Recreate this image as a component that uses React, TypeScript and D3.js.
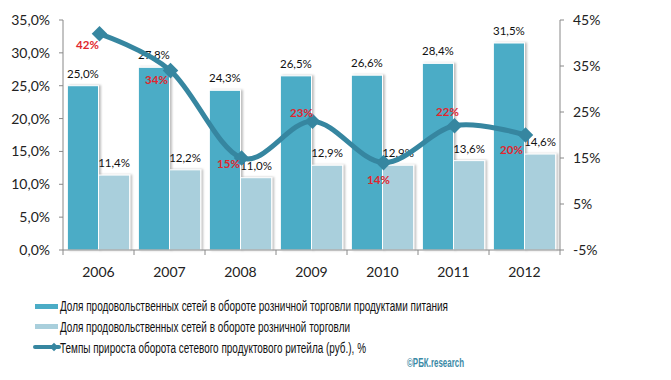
import React from "react";
import * as d3 from "d3";

const years = ["2006", "2007", "2008", "2009", "2010", "2011", "2012"];
const foodShare = [25.0, 27.8, 24.3, 26.5, 26.6, 28.4, 31.5];
const retailShare = [11.4, 12.2, 11.0, 12.9, 12.9, 13.6, 14.6];
const growth = [42, 34, 15, 23, 14, 22, 20];
const leftTicks = [0, 5, 10, 15, 20, 25, 30, 35];
const rightTicks = [-5, 5, 15, 25, 35, 45];
const legendLabels = [
  "Доля продовольственных  сетей в обороте  розничной торговли  продуктами питания",
  "Доля продовольственных  сетей в обороте  розничной торговли",
  "Темпы прироста оборота  сетевого продуктового  ритейла (руб.), %",
];
// manual label nudges (dx, dy) for the growth labels, as in the original
const growthLabelOffsets = [
  [-12, 11], [-14, 9], [-13, 6], [-11, -8], [-5, 17], [-7, -14], [-14, 15],
];

const W = 671, H = 380;
const left = 63, right = 560, top = 20, bottom = 250;
const DARK = "#4BACC6";
const LIGHT = "#A9CFDC";
const LINE = "#3686A0";
const FONT = "Lato, 'Open Sans', sans-serif";
const NARROW = "'Liberation Sans Narrow', 'Liberation Sans', sans-serif";

const fmt = (v: number) => v.toFixed(1).replace(".", ",") + "%";

export default function App() {
  const x = d3.scaleBand<string>().domain(years).range([left, right]).paddingInner(0);
  const inner = d3.scaleBand<string>().domain(["a", "b"]).range([0, x.bandwidth()]).paddingOuter(0.14).paddingInner(0);
  const yL = d3.scaleLinear().domain([0, 35]).range([bottom, top]);
  const yR = d3.scaleLinear().domain([-5, 45]).range([bottom, top]);
  const cx = (y: string) => (x(y) as number) + x.bandwidth() / 2 + 1;

  const lineGen = d3
    .line<number>()
    .x((_, i) => cx(years[i]))
    .y((d) => yR(d))
    .curve(d3.curveCardinal.tension(0));

  const bw = inner.bandwidth();

  return (
    <svg width={W} height={H} style={{ position: "absolute", left: 0, top: 0, background: "#fff" }}>
      <defs>
        <filter id="sh" x="-20%" y="-5%" width="150%" height="110%">
          <feDropShadow dx="2" dy="0" stdDeviation="1.2" floodColor="#000" floodOpacity="0.25" />
        </filter>
      </defs>

      {/* bars */}
      {years.map((yr, i) => {
        const x0 = (x(yr) as number) + (inner("a") as number);
        const x1 = (x(yr) as number) + (inner("b") as number);
        return (
          <g key={yr}>
            <rect x={x0} y={yL(foodShare[i])} width={bw} height={bottom - yL(foodShare[i])} fill={DARK} stroke="#fff" strokeWidth={1} filter="url(#sh)" />
            <rect x={x1} y={yL(retailShare[i])} width={bw} height={bottom - yL(retailShare[i])} fill={LIGHT} stroke="#fff" strokeWidth={1} filter="url(#sh)" />
            <text x={x0 + bw / 2} y={yL(foodShare[i]) - 8} textAnchor="middle" fontFamily={FONT} fontSize={11.5} fill="#111">{fmt(foodShare[i])}</text>
            <text x={x1 + bw / 2} y={yL(retailShare[i]) - 8} textAnchor="middle" fontFamily={FONT} fontSize={11.5} fill="#111">{fmt(retailShare[i])}</text>
          </g>
        );
      })}

      {/* axes */}
      <line x1={left} x2={left} y1={top} y2={bottom} stroke="#888" />
      <line x1={right} x2={right} y1={top} y2={bottom} stroke="#888" />
      <line x1={left} x2={right} y1={bottom} y2={bottom} stroke="#888" />
      {leftTicks.map((t) => (
        <g key={"l" + t}>
          <line x1={left - 4} x2={left} y1={yL(t)} y2={yL(t)} stroke="#888" />
          <text x={50} y={yL(t) + 5} textAnchor="end" fontFamily={FONT} fontSize={14} fill="#222">{fmt(t)}</text>
        </g>
      ))}
      {rightTicks.map((t) => (
        <g key={"r" + t}>
          <line x1={right} x2={right + 4} y1={yR(t)} y2={yR(t)} stroke="#888" />
          <text x={573} y={yR(t) + 5} textAnchor="start" fontFamily={FONT} fontSize={14} fill="#222">{t + "%"}</text>
        </g>
      ))}
      {years.map((yr) => (
        <line key={"xt" + yr} x1={x(yr) as number} x2={x(yr) as number} y1={bottom} y2={bottom + 5} stroke="#888" />
      ))}
      <line x1={right} x2={right} y1={bottom} y2={bottom + 5} stroke="#888" />
      {years.map((yr) => (
        <text key={"xl" + yr} x={cx(yr) - 1} y={277} textAnchor="middle" fontFamily={FONT} fontSize={14} fill="#222">{yr}</text>
      ))}

      {/* line */}
      <path d={lineGen(growth) as string} fill="none" stroke={LINE} strokeWidth={5} strokeLinejoin="round" />
      {growth.map((g, i) => (
        <rect key={"m" + i} x={cx(years[i]) - 5.5} y={yR(g) - 5.5} width={11} height={11} fill={LINE} transform={`rotate(45 ${cx(years[i])} ${yR(g)})`} />
      ))}
      {growth.map((g, i) => (
        <text key={"gl" + i} x={cx(years[i]) + growthLabelOffsets[i][0]} y={yR(g) + growthLabelOffsets[i][1] + 4} textAnchor="middle" fontFamily={FONT} fontWeight="bold" fontSize={11.5} fill="#E1262E">{g + "%"}</text>
      ))}

      {/* legend */}
      <rect x={35} y={304} width={23} height={5} fill={DARK} />
      <rect x={35} y={324} width={23} height={5} fill={LIGHT} />
      <line x1={35} x2={59} y1={347} y2={347} stroke={LINE} strokeWidth={4} strokeLinecap="round" />
      <rect x={51} y={344} width={6} height={6} fill={LINE} transform="rotate(45 54 347)" />
      <text x={60} y={311} fontFamily={NARROW} fontSize={15.5} fill="#111" textLength={388} lengthAdjust="spacingAndGlyphs">{legendLabels[0]}</text>
      <text x={60} y={332} fontFamily={NARROW} fontSize={15.5} fill="#111" textLength={290} lengthAdjust="spacingAndGlyphs">{legendLabels[1]}</text>
      <text x={60} y={353} fontFamily={NARROW} fontSize={15.5} fill="#111" textLength={306} lengthAdjust="spacingAndGlyphs">{legendLabels[2]}</text>
      <text x={407} y={367} fontFamily={NARROW} fontSize={13} fontWeight="bold" fill="#3B8AA6" textLength={57} lengthAdjust="spacingAndGlyphs">©РБК.research</text>
    </svg>
  );
}
